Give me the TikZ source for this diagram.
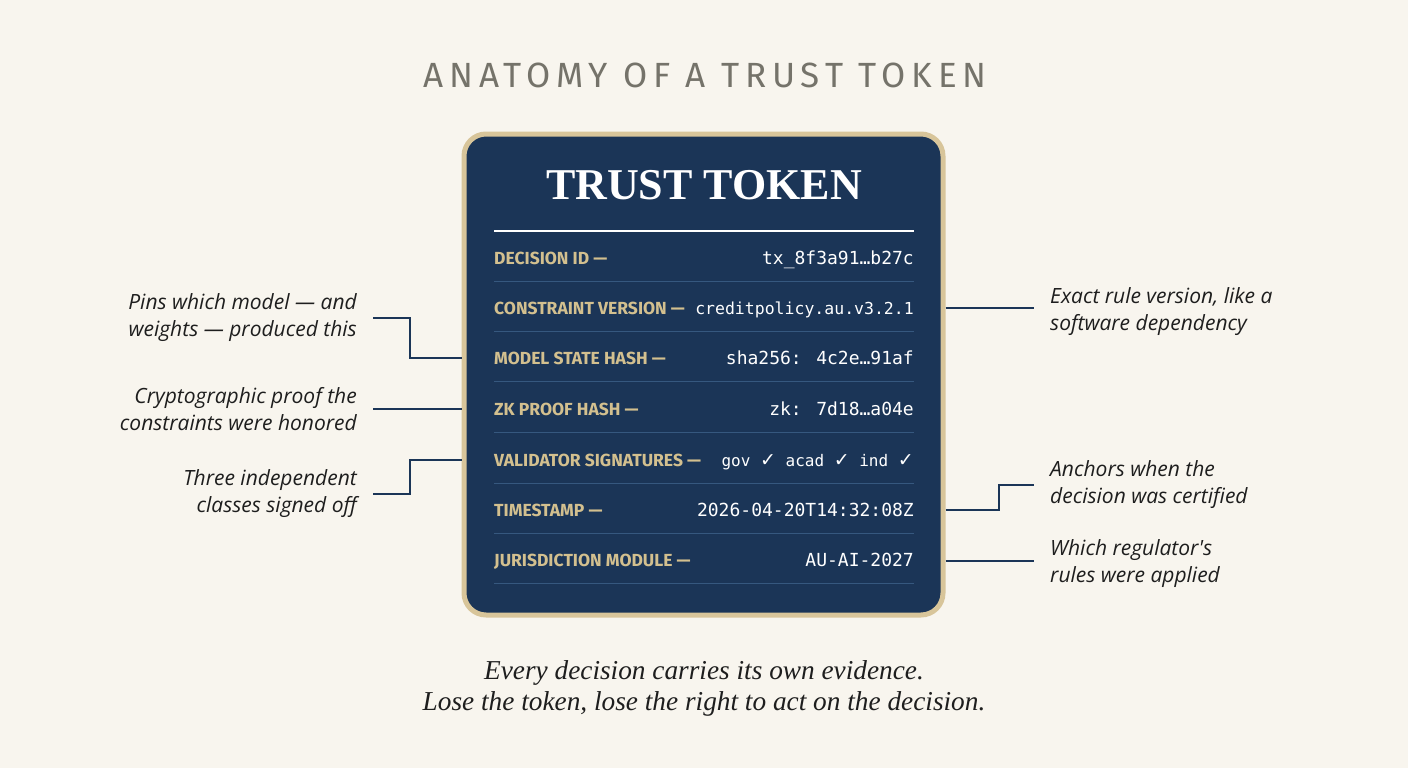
\documentclass[tikz,border=0pt]{standalone}
\usepackage{fontspec}
\newfontfamily\headfont[LetterSpace=17]{Fira Sans}
\newfontfamily\labfont{Fira Sans}
\newfontfamily\annfont{Open Sans}
\newfontfamily\valfont{DejaVu Sans Mono}
\newfontfamily\symfont{DejaVu Sans}
\newfontfamily\serfont{Liberation Serif}
\newcommand{\ckm}{{\symfont\bfseries\fontsize{19}{20}\selectfont ✓}}
\definecolor{bgc}{HTML}{F8F5EE}
\definecolor{navy}{HTML}{1B3557}
\definecolor{gold}{HTML}{D8C59A}
\definecolor{labgold}{HTML}{D3C08F}
\definecolor{sepc}{HTML}{36587F}
\definecolor{headgray}{HTML}{75736A}
\definecolor{anntext}{HTML}{1E1E1E}
\begin{document}
\begin{tikzpicture}[x=1pt,y=-1pt,
  card/.style={draw=gold, line width=5pt, fill=navy, rounded corners=22pt, inner sep=0pt},
  lab/.style={text=labgold, font=\labfont\bfseries\fontsize{17.5}{20}\selectfont, inner sep=0pt},
  val/.style={text=white, font=\valfont\fontsize{18}{20}\selectfont, inner sep=0pt},
  sep/.style={draw=sepc, line width=1.3pt},
  ann/.style={text=anntext, font=\annfont\itshape\fontsize{21}{27}\selectfont, inner sep=0pt},
  conn/.style={draw=navy, line width=2pt}]
\fill[bgc] (0,0) rectangle (1408,768);
\useasboundingbox (0,0) rectangle (1408,768);

\node[text=headgray, font=\headfont\fontsize{35}{40}\selectfont] (head) at (705,75) {ANATOMY OF A TRUST TOKEN};

\node[card, minimum width=479pt, minimum height=481pt] (card) at (703.5,374.5) {};
\node[text=white, font=\serfont\bfseries\fontsize{44}{48}\selectfont] (tt) at (704,185) {TRUST TOKEN};
\draw[white, line width=2pt] (494,231) -- (914,231);

\foreach \i/\y/\lab/\val in {1/258/{DECISION ID —}/{tx\_8f3a91…b27c},
  2/308/{CONSTRAINT VERSION —}/{\fontsize{16.5}{20}\selectfont creditpolicy.au.v3.2.1},
  3/358/{MODEL STATE HASH —}/{sha256: 4c2e…91af},
  4/409/{ZK PROOF HASH —}/{zk: 7d18…a04e},
  5/460/{VALIDATOR SIGNATURES —}/{\fontsize{16}{20}\selectfont gov \ckm{} acad \ckm{} ind \ckm},
  6/510/{TIMESTAMP —}/{2026-04-20T14:32:08Z},
  7/560/{JURISDICTION MODULE —}/{AU-AI-2027}}{
  \node[lab, anchor=base west] (l\i) at (494,\y+6) {\lab};
  \node[val, anchor=base east] (v\i) at (914,\y+6.5) {\val};
  \draw[sep] (494,\y+23.5) -- (914,\y+23.5);
}

% left annotations
\node[ann, anchor=east, align=right] (a1) at (357,318) {Pins which model — and\\weights — produced this};
\node[ann, anchor=east, align=right] (a2) at (357,409) {Cryptographic proof the\\constraints were honored};
\node[ann, anchor=east, align=right] (a3) at (357,494) {Three independent\\classes signed off};
% right annotations
\node[ann, anchor=west, align=left] (b1) at (1050,312) {Exact rule version, like a\\software dependency};
\node[ann, anchor=west, align=left] (b2) at (1050,485) {Anchors when the\\decision was certified};
\node[ann, anchor=west, align=left] (b3) at (1050,564) {Which regulator's\\rules were applied};

\draw[conn] ([xshift=16pt]a1.east) -- ++(37,0) |- (card.west |- l3);
\draw[conn] (card.west |- l4) -- ([xshift=16pt]a2.east |- l4);
\draw[conn] ([xshift=16pt]a3.east) -- ++(37,0) |- (card.west |- l5);
\draw[conn] (card.east |- l2) -- ([xshift=-16pt]b1.west |- l2);
\draw[conn] (card.east |- l6) -- ++(53,0) |- ([xshift=-16pt]b2.west);
\draw[conn] (card.east |- l7) -- ([xshift=-16pt]b3.west |- l7);

\node[text=anntext, font=\serfont\itshape\fontsize{27.3}{31}\selectfont, align=center] (foot) at (704,688) {Every decision carries its own evidence.\\Lose the token, lose the right to act on the decision.};
\end{tikzpicture}
\end{document}
